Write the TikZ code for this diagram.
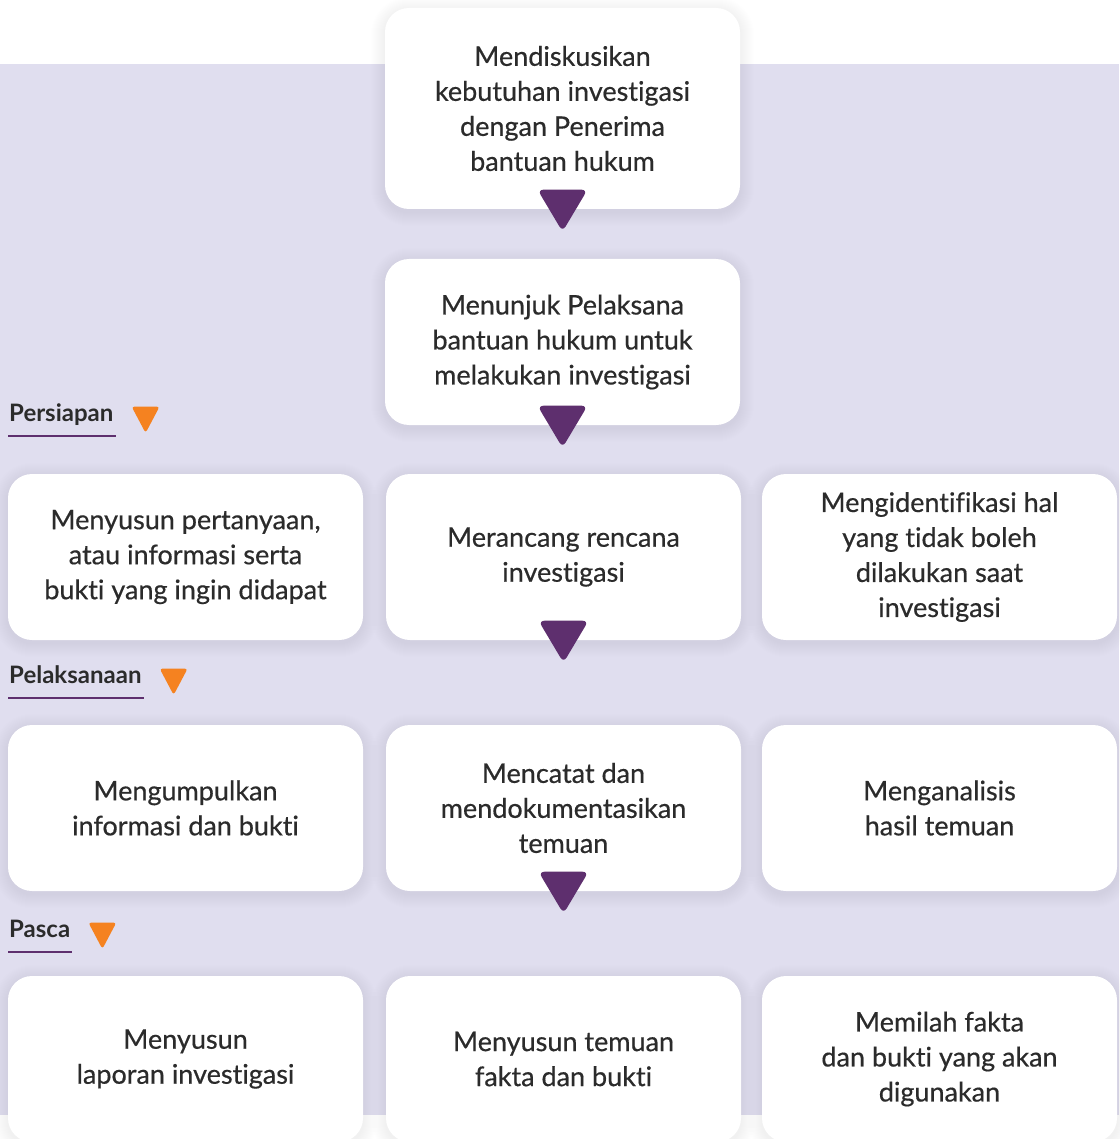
\documentclass[tikz,border=0pt]{standalone}
\usepackage{fontspec}
\setmainfont{Lato}[Ligatures=NoCommon]
\newfontfamily\boxfont{Lato}[Ligatures=NoCommon, FakeBold=0.5]
\definecolor{lavender}{HTML}{E0DEEF}
\definecolor{brandpurple}{HTML}{5E2F6E}
\definecolor{brandorange}{HTML}{F58220}
\definecolor{ink}{HTML}{2B2B2B}
\pgfdeclarelayer{backdrop}
\pgfdeclarelayer{shade}
\pgfsetlayers{backdrop,shade,main}
\tikzset{
  purpletri/.pic={\fill[brandpurple, rounded corners=6pt] (-25,19.5) -- (25,19.5) -- (0,-22.5) -- cycle;},
  orangetri/.pic={\fill[brandorange, rounded corners=3pt] (-14,12.5) -- (14,12.5) -- (0,-14) -- cycle;}
}
\begin{document}
\begin{tikzpicture}[x=1pt,y=1pt,
    stepbox/.style={rectangle, rounded corners=24pt, fill=white, text=ink, align=center,
      minimum width=355pt, minimum height=166pt, inner sep=0pt,
      font=\boxfont\fontsize{27}{35}\selectfont},
    phase/.style={anchor=base west, inner sep=0pt, text=ink, font=\fontsize{24}{28}\selectfont\bfseries},
    phaseline/.style={brandpurple, line width=2pt}]
    \useasboundingbox (0,0) rectangle (1119,-1139);
    \begin{pgfonlayer}{backdrop}
      \fill[lavender] (0,-64) rectangle (1119,-1115);
    \end{pgfonlayer}

    % top of the flow
    \node[stepbox, minimum height=201pt] (discuss) at (562.5,-108.5) {Mendiskusikan\\kebutuhan investigasi\\dengan Penerima\\bantuan hukum};
    \node[stepbox] (appoint) at (562.5,-342) {Menunjuk Pelaksana\\bantuan hukum untuk\\melakukan investigasi};

    % Persiapan
    \node[stepbox] (askq) at (185.5,-557) {Menyusun pertanyaan,\\atau informasi serta\\bukti yang ingin didapat};
    \node[stepbox] (plan) at (563.5,-557) {Merancang rencana\\investigasi};
    \node[stepbox] (limits) at (939.5,-557) {Mengidentifikasi hal\\yang tidak boleh\\dilakukan saat\\investigasi};

    % Pelaksanaan
    \node[stepbox] (collect) at (185.5,-808) {Mengumpulkan\\informasi dan bukti};
    \node[stepbox] (record) at (563.5,-808) {Mencatat dan\\mendokumentasikan\\temuan};
    \node[stepbox] (analyse) at (939.5,-808) {Menganalisis\\hasil temuan};

    % Pasca
    \node[stepbox] (report) at (185.5,-1059) {Menyusun\\laporan investigasi};
    \node[stepbox] (compile) at (563.5,-1059) {Menyusun temuan\\fakta dan bukti};
    \node[stepbox] (sort) at (939.5,-1059) {Memilah fakta\\dan bukti yang akan\\digunakan};

    % soft shadow under every box
    \begin{pgfonlayer}{shade}
      \foreach \b in {discuss,appoint,askq,plan,limits,collect,record,analyse,report,compile,sort}
        \foreach \r in {1,...,14}
          \fill[black, opacity=0.005, rounded corners={(24+\r)*1pt}]
            ([shift={(-\r,-\r-3)}]\b.south west) rectangle ([shift={(\r,\r-3)}]\b.north east);
    \end{pgfonlayer}

    \foreach \b in {discuss,appoint,plan,record}
      \pic at (\b.south) {purpletri};

    % phase labels
    \node[phase] (persiapan) at (9,-421) {Persiapan};
    \node[phase] (pelaksanaan) at (9,-683) {Pelaksanaan};
    \node[phase] (pasca) at (9,-937) {Pasca};
    \foreach \p in {persiapan,pelaksanaan,pasca}{
      \draw[phaseline] ([yshift=-15pt]\p.base west) ++(-1,0) -- ([xshift=2pt,yshift=-15pt]\p.base east);
      \pic at ([xshift=32pt,yshift=2pt]\p.base east) {orangetri};
    }
\end{tikzpicture}
\end{document}
